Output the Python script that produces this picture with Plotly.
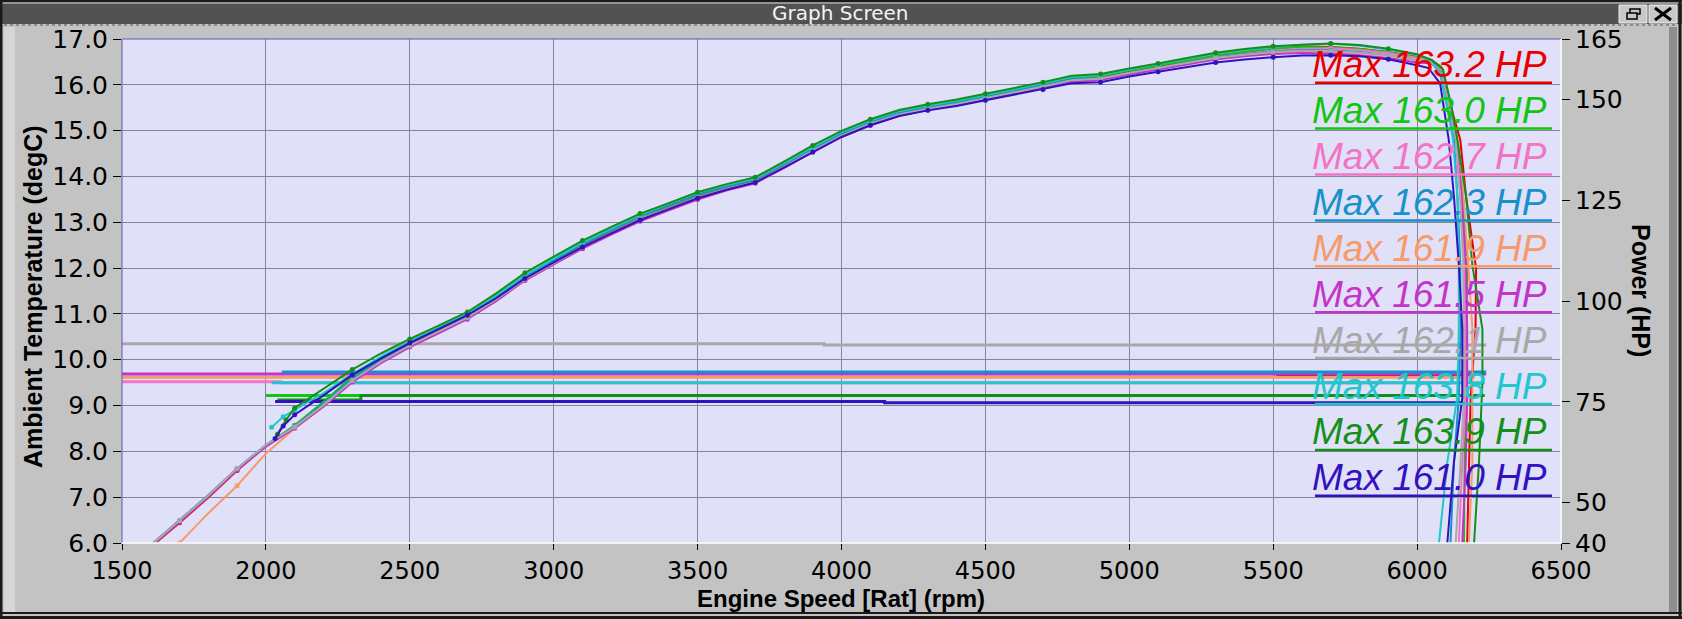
import plotly.graph_objects as go

# ---------------- data ----------------
RPM_GRID = list(range(1600, 6001, 100))   # 1600 .. 6000 rpm

RUN_LABELS = ["Max 163.2 HP", "Max 163.0 HP", "Max 162.7 HP", "Max 162.3 HP", "Max 161.9 HP",
              "Max 161.5 HP", "Max 162.1 HP", "Max 163.8 HP", "Max 163.9 HP", "Max 161.0 HP"]
RUN_COLORS = ["#E80000", "#14C414", "#F274C4", "#1592C8", "#F79A6A",
              "#C434C8", "#A8A8A8", "#22C6CC", "#149018", "#3212C0"]

HP_RED = [39.0, 45.0, 51.3, 58.0, 64.0, 68.8, 74.3, 80.5, 85.2, 89.2, 92.6, 96.0, 100.6, 105.6, 109.6,
          113.6, 117.1, 120.4, 123.1, 125.8, 128.0, 129.7, 133.5, 137.5, 141.2, 144.2, 146.5, 147.9, 149.0, 150.4,
          152.0, 153.5, 155.1, 155.5, 157.0, 158.2, 159.6, 160.9, 161.8, 162.6, 163.2, 163.0, 162.6, 161.8, 160.6]
HP_LIME = [39.2, 45.3, 51.6, 58.3, 64.2, 69.2, 75.0, 81.3, 85.9, 89.7, 93.1, 96.6, 101.1, 106.2, 110.2,
           114.2, 117.6, 121.0, 123.6, 126.3, 128.4, 130.2, 134.0, 138.0, 141.7, 144.6, 146.9, 148.3, 149.5, 150.9,
           152.4, 153.8, 155.4, 155.8, 157.2, 158.4, 159.7, 160.9, 161.8, 162.6, 163.0, 162.9, 162.5, 161.7, 160.5]
HP_PINK = [39.3, 45.4, 51.7, 58.4, 64.1, 68.6, 74.0, 80.2, 84.9, 88.9, 92.4, 95.8, 100.3, 105.3, 109.3,
           113.3, 116.8, 120.1, 122.8, 125.6, 127.8, 129.5, 133.2, 137.2, 140.9, 143.9, 146.2, 147.7, 148.9, 150.3,
           151.8, 153.2, 154.8, 155.2, 156.6, 157.8, 159.2, 160.4, 161.3, 162.1, 162.6, 162.7, 162.3, 161.5, 160.3]
HP_TEAL = [39.5, 45.6, 51.9, 58.5, 64.3, 69.0, 74.6, 80.8, 85.5, 89.5, 92.9, 96.4, 100.9, 106.0, 110.0,
           114.1, 117.6, 121.0, 123.7, 126.4, 128.4, 130.1, 133.9, 137.8, 141.5, 144.4, 146.7, 148.1, 149.2, 150.6,
           152.1, 153.5, 155.0, 155.3, 156.7, 157.9, 159.2, 160.4, 161.2, 161.9, 162.3, 162.2, 161.8, 161.0, 159.8]
HP_ORANGE = [None, 40.0, 47.4, 54.2, 62.2, 68.4, 74.0, 80.0, 84.8, 88.8, 92.2, 95.6, 100.1, 105.1, 109.1,
             113.1, 116.6, 119.9, 122.6, 125.4, 127.6, 129.4, 133.1, 137.0, 140.7, 143.7, 146.0, 147.5, 148.7, 150.1,
             151.6, 153.0, 154.6, 155.0, 156.5, 157.7, 159.0, 160.2, 161.0, 161.6, 161.9, 161.8, 161.5, 160.9, 159.9]
HP_MAGENTA = [39.2, 45.2, 51.5, 58.1, 63.9, 68.5, 73.8, 79.9, 84.6, 88.6, 92.0, 95.5, 100.0, 105.1, 109.1,
              113.0, 116.5, 119.8, 122.5, 125.2, 127.4, 129.2, 133.0, 137.0, 140.7, 143.6, 145.9, 147.4, 148.6, 150.0,
              151.5, 152.9, 154.4, 154.8, 156.2, 157.4, 158.7, 159.9, 160.7, 161.3, 161.5, 161.4, 161.0, 160.3, 159.2]
HP_GRAY = [39.4, 45.5, 51.8, 58.5, 64.3, 68.8, 74.2, 80.3, 85.0, 89.0, 92.5, 95.9, 100.4, 105.4, 109.4,
           113.4, 116.9, 120.3, 123.0, 125.7, 127.8, 129.5, 133.3, 137.3, 141.0, 144.0, 146.3, 147.7, 148.9, 150.3,
           151.8, 153.2, 154.8, 155.2, 156.6, 157.8, 159.1, 160.3, 161.1, 161.8, 162.1, 162.0, 161.6, 160.9, 159.8]
HP_CYAN = [None, None, None, None, None, 73.0, 77.2, 81.9, 86.2, 90.0, 93.4, 96.9, 101.4, 106.4, 110.5,
           114.5, 118.0, 121.4, 124.3, 127.0, 128.8, 130.4, 134.2, 138.2, 141.9, 144.8, 147.1, 148.5, 149.7, 151.1,
           152.6, 154.0, 155.6, 156.0, 157.4, 158.7, 160.1, 161.4, 162.3, 163.0, 163.6, 163.8, 163.3, 162.4, 161.0]
HP_DKGREEN = [None, None, None, None, None, 73.5, 78.2, 83.0, 87.0, 90.6, 93.9, 97.3, 101.9, 107.0, 111.0,
              115.0, 118.4, 121.7, 124.3, 127.0, 129.0, 130.7, 134.6, 138.6, 142.2, 145.1, 147.4, 148.8, 150.0, 151.4,
              152.9, 154.3, 155.9, 156.3, 157.7, 158.9, 160.3, 161.6, 162.5, 163.2, 163.6, 163.9, 163.5, 162.6, 161.2]
HP_INDIGO = [None, None, None, None, None, 71.8, 76.6, 81.7, 85.8, 89.6, 93.0, 96.5, 100.7, 105.6, 109.6,
             113.4, 116.8, 120.1, 122.8, 125.5, 127.6, 129.4, 133.1, 137.0, 140.7, 143.6, 145.9, 147.3, 148.4, 149.8,
             151.2, 152.5, 154.0, 154.3, 155.7, 156.9, 158.1, 159.2, 159.9, 160.5, 160.9, 161.0, 160.7, 160.0, 158.5]

# (rpm, hp) points where late-starting runs begin
HEAD_CYAN = [(2020, 68.7), (2060, 71.3)]
HEAD_DKGREEN = [(2040, 67.0), (2070, 70.5)]
HEAD_INDIGO = [(2032, 65.9), (2060, 69.0)]

# (rpm, hp) points of the power drop-off at the end of each pull
TAIL_RED = [(6050, 159.8), (6085, 158.0), (6110, 150.0), (6150, 140.0), (6170, 126.0), (6205, 108.0),
            (6203, 93.0), (6186, 76.0), (6180, 60.0), (6174, 40.0)]
TAIL_LIME = [(6050, 159.6), (6085, 157.5), (6115, 148.0), (6140, 140.0), (6160, 126.0), (6175, 109.0),
             (6170, 93.0), (6169, 76.0), (6165, 60.0), (6163, 40.0)]
TAIL_PINK = [(6050, 159.5), (6085, 157.0), (6110, 148.0), (6135, 140.0), (6150, 126.0), (6165, 109.0),
             (6169, 93.0), (6169, 76.0), (6157, 60.0), (6145, 40.0)]
TAIL_TEAL = [(6050, 159.2), (6080, 156.5), (6105, 148.0), (6128, 140.0), (6140, 126.0), (6150, 109.0),
             (6151, 93.0), (6145, 76.0), (6128, 60.0), (6116, 40.0)]
TAIL_ORANGE = [(6050, 159.4), (6085, 157.2), (6115, 148.0), (6140, 140.0), (6160, 126.0), (6178, 109.0),
               (6192, 93.0), (6192, 76.0), (6192, 60.0), (6180, 40.0)]
TAIL_MAGENTA = [(6050, 159.0), (6085, 156.8), (6110, 148.0), (6138, 140.0), (6155, 126.0), (6170, 109.0),
                (6174, 93.0), (6174, 76.0), (6169, 60.0), (6157, 40.0)]
TAIL_GRAY = [(6050, 159.2), (6085, 156.5), (6110, 148.0), (6135, 140.0), (6150, 126.0), (6160, 109.0),
             (6163, 93.0), (6163, 76.0), (6151, 60.0), (6134, 40.0)]
TAIL_CYAN = [(6050, 159.6), (6080, 157.0), (6105, 148.0), (6125, 140.0), (6140, 126.0), (6145, 109.0),
             (6145, 93.0), (6139, 76.0), (6105, 60.0), (6076, 40.0)]
TAIL_DKGREEN = [(6050, 159.8), (6090, 157.5), (6120, 148.0), (6140, 140.0), (6170, 126.0), (6192, 109.0),
                (6227, 93.0), (6227, 80.0), (6215, 60.0), (6198, 40.0)]
TAIL_INDIGO = [(6040, 157.8), (6080, 154.0), (6110, 140.0), (6128, 126.0), (6145, 109.0),
               (6157, 93.0), (6157, 76.0), (6128, 60.0), (6105, 40.0)]

# ambient temperature (degC) logged during each pull: (rpm, value) step points
TEMP_RED = [(5510, 9.68), (6200, 9.68)]
TEMP_LIME = [(2000, 9.22), (6163, 9.22)]
TEMP_PINK = [(1500, 9.52), (2050, 9.50), (6145, 9.50)]
TEMP_TEAL = [(2055, 9.73), (6240, 9.73)]
TEMP_ORANGE = [(1500, 9.62), (6200, 9.62)]
TEMP_MAGENTA = [(1500, 9.69), (6240, 9.69)]
TEMP_GRAY = [(1500, 10.35), (3940, 10.32), (6240, 10.32)]
TEMP_CYAN = [(2020, 9.50), (6235, 9.50)]
TEMP_DKGREEN = [(2040, 9.12), (2330, 9.22), (6235, 9.22)]
TEMP_INDIGO = [(2032, 9.09), (4150, 9.06), (6170, 9.06)]

X_TICKS = [1500, 2000, 2500, 3000, 3500, 4000, 4500, 5000, 5500, 6000, 6500]
Y_TICKS = [6, 7, 8, 9, 10, 11, 12, 13, 14, 15, 16, 17]
Y_TICK_TEXT = ["6.0", "7.0", "8.0", "9.0", "10.0", "11.0", "12.0", "13.0", "14.0", "15.0", "16.0", "17.0"]
Y2_TICKS = [40, 50, 75, 100, 125, 150, 165]

RUNS = [
    (HP_RED, [], TAIL_RED, TEMP_RED),
    (HP_LIME, [], TAIL_LIME, TEMP_LIME),
    (HP_PINK, [], TAIL_PINK, TEMP_PINK),
    (HP_TEAL, [], TAIL_TEAL, TEMP_TEAL),
    (HP_ORANGE, [], TAIL_ORANGE, TEMP_ORANGE),
    (HP_MAGENTA, [], TAIL_MAGENTA, TEMP_MAGENTA),
    (HP_GRAY, [], TAIL_GRAY, TEMP_GRAY),
    (HP_CYAN, HEAD_CYAN, TAIL_CYAN, TEMP_CYAN),
    (HP_DKGREEN, HEAD_DKGREEN, TAIL_DKGREEN, TEMP_DKGREEN),
    (HP_INDIGO, HEAD_INDIGO, TAIL_INDIGO, TEMP_INDIGO),
]

# ---------------- layout geometry (pixels) ----------------
W, H = 1682, 619
PL, PR, PT, PB = 122, 1561, 39, 543


def px(x):
    return (x - PL) / (PR - PL)


def py(y):
    return (PB - y) / (PB - PT)


fig = go.Figure()

# temperature lines (left axis)
order_temp = [6, 2, 4, 0, 1, 5, 3, 7, 8, 9]
for i in order_temp:
    pts = RUNS[i][3]
    fig.add_trace(go.Scatter(
        x=[p[0] for p in pts], y=[p[1] for p in pts], mode="lines",
        line=dict(color=RUN_COLORS[i], width=3, shape="hv"),
        yaxis="y", showlegend=False, hoverinfo="skip"))

# power curves (right axis)
for i, (hp, head, tail, _) in enumerate(RUNS):
    xs, ys = [], []
    mx, my = [], []
    for r, v in head:
        xs.append(r); ys.append(v); mx.append(r); my.append(v)
    for k, (r, v) in enumerate(zip(RPM_GRID, hp)):
        if v is None:
            continue
        xs.append(r); ys.append(v)
        if k % 2 == 1:
            mx.append(r); my.append(v)
    for r, v in tail:
        xs.append(r); ys.append(v)
    fig.add_trace(go.Scatter(
        x=xs, y=ys, mode="lines", yaxis="y2",
        line=dict(color=RUN_COLORS[i], width=2),
        showlegend=False, name=RUN_LABELS[i]))
    fig.add_trace(go.Scatter(
        x=mx, y=my, mode="markers", yaxis="y2",
        marker=dict(color=RUN_COLORS[i], size=5, line=dict(width=0)),
        showlegend=False, hoverinfo="skip"))

shapes = []
annotations = []

# window chrome
shapes += [
    dict(type="rect", xref="paper", yref="paper", x0=px(0), x1=px(W), y0=py(0), y1=py(24),
         fillcolor="#525252", line=dict(width=0), layer="below"),
    dict(type="line", xref="paper", yref="paper", x0=px(0), x1=px(W), y0=py(1), y1=py(1),
         line=dict(color="#1a1a1a", width=2)),
    dict(type="line", xref="paper", yref="paper", x0=px(0), x1=px(W), y0=py(3), y1=py(3),
         line=dict(color="#d8d8d8", width=1)),
    dict(type="line", xref="paper", yref="paper", x0=px(4), x1=px(W - 4), y0=py(25), y1=py(25),
         line=dict(color="#8a8a8a", width=2, dash="dot")),
    dict(type="rect", xref="paper", yref="paper", x0=px(4), x1=px(15), y0=py(27), y1=py(612),
         fillcolor="#d6d6d6", line=dict(width=0), layer="below"),
    dict(type="line", xref="paper", yref="paper", x0=px(1), x1=px(1), y0=py(0), y1=py(H),
         line=dict(color="#1a1a1a", width=3)),
    dict(type="rect", xref="paper", yref="paper", x0=px(1669), x1=px(1677), y0=py(27), y1=py(612),
         fillcolor="#8e8e8e", line=dict(width=0), layer="below"),
    dict(type="line", xref="paper", yref="paper", x0=px(1680), x1=px(1680), y0=py(0), y1=py(H),
         line=dict(color="#1a1a1a", width=3)),
    dict(type="line", xref="paper", yref="paper", x0=px(0), x1=px(W), y0=py(613), y1=py(613),
         line=dict(color="#1a1a1a", width=2)),
    dict(type="line", xref="paper", yref="paper", x0=px(0), x1=px(W), y0=py(617.5), y1=py(617.5),
         line=dict(color="#1a1a1a", width=3)),
    # buttons
    dict(type="rect", xref="paper", yref="paper", x0=px(1619), x1=px(1647), y0=py(5), y1=py(23),
         fillcolor="#c8c8c8", line=dict(color="#efefef", width=1)),
    dict(type="rect", xref="paper", yref="paper", x0=px(1649), x1=px(1677), y0=py(5), y1=py(23),
         fillcolor="#c8c8c8", line=dict(color="#efefef", width=1)),
    dict(type="rect", xref="paper", yref="paper", x0=px(1630), x1=px(1640), y0=py(9), y1=py(14),
         line=dict(color="black", width=1.5)),
    dict(type="rect", xref="paper", yref="paper", x0=px(1627), x1=px(1637), y0=py(13), y1=py(19),
         fillcolor="#c8c8c8", line=dict(color="black", width=1.5)),
    dict(type="line", xref="paper", yref="paper", x0=px(1655), x1=px(1671), y0=py(8), y1=py(20),
         line=dict(color="black", width=3)),
    dict(type="line", xref="paper", yref="paper", x0=px(1655), x1=px(1671), y0=py(20), y1=py(8),
         line=dict(color="black", width=3)),
    # plot frame
    dict(type="line", xref="paper", yref="paper", x0=0, x1=1, y0=1, y1=1, line=dict(color="#5a5ab4", width=1)),
    dict(type="line", xref="paper", yref="paper", x0=0, x1=0, y0=0, y1=1, line=dict(color="#5a5ab4", width=1)),
    dict(type="line", xref="paper", yref="paper", x0=0, x1=1, y0=0, y1=0, line=dict(color="white", width=1.5)),
    dict(type="line", xref="paper", yref="paper", x0=1, x1=1, y0=0, y1=1, line=dict(color="white", width=1.5)),
]

# legend: "Max ... HP" text with underline
for k in range(10):
    uy = 82.7 + 45.9 * k
    shapes.append(dict(type="line", xref="paper", yref="paper", x0=px(1315), x1=px(1552),
                       y0=py(uy), y1=py(uy), line=dict(color=RUN_COLORS[k], width=2.5)))
    annotations.append(dict(text="<i>" + RUN_LABELS[k] + "</i>", xref="paper", yref="paper",
                            x=px(1549), y=py(uy - 18), xanchor="right", yanchor="middle", showarrow=False,
                            font=dict(family="Liberation Sans, Arial", size=37, color=RUN_COLORS[k])))

# titles
annotations += [
    dict(text="Graph Screen", xref="paper", yref="paper", x=px(840), y=py(13), xanchor="center",
         yanchor="middle", showarrow=False, font=dict(family="DejaVu Sans", size=20, color="#f4f4f4")),
    dict(text="<b>Engine Speed [Rat] (rpm)</b>", xref="paper", yref="paper", x=px(841), y=py(598),
         xanchor="center", yanchor="middle", showarrow=False, borderpad=0,
         font=dict(family="Liberation Sans, Arial", size=24, color="black")),
    dict(text="<b>Ambient Temperature (degC)</b>", xref="paper", yref="paper", x=px(33), y=py(297),
         xanchor="center", yanchor="middle", textangle=-90, showarrow=False,
         font=dict(family="Liberation Sans, Arial", size=25, color="black")),
    dict(text="<b>Power (HP)</b>", xref="paper", yref="paper", x=px(1641), y=py(290),
         xanchor="center", yanchor="middle", textangle=90, showarrow=False,
         font=dict(family="Liberation Sans, Arial", size=25, color="black")),
]

tickfont = dict(family="DejaVu Sans", size=25, color="black")
xtickfont = dict(family="DejaVu Sans", size=24, color="black")

fig.update_layout(
    width=W, height=H,
    margin=dict(l=PL, r=W - PR, t=PT, b=H - PB, pad=0),
    paper_bgcolor="#c3c3c3",
    plot_bgcolor="#e0e0f9",
    showlegend=False,
    xaxis=dict(range=[1500, 6500], tickvals=X_TICKS, showgrid=True, gridcolor="#84849a", gridwidth=1,
               zeroline=False, showline=False, ticks="outside", ticklen=6, tickcolor="black",
               tickfont=xtickfont),
    yaxis=dict(range=[6, 17], tickvals=Y_TICKS, ticktext=Y_TICK_TEXT, showgrid=True, gridcolor="#84849a",
               gridwidth=1, zeroline=False, showline=False, ticks="outside", ticklen=8, tickcolor="black",
               tickfont=tickfont),
    yaxis2=dict(range=[40, 165], tickvals=Y2_TICKS, overlaying="y", side="right", showgrid=False,
                zeroline=False, showline=False, ticks="outside", ticklen=8, tickcolor="black",
                tickfont=tickfont),
    shapes=shapes,
    annotations=annotations,
)

fig.write_html("out.html", config={"displayModeBar": False},
               post_script="document.body.style.margin='0px';document.body.style.overflow='hidden';")
